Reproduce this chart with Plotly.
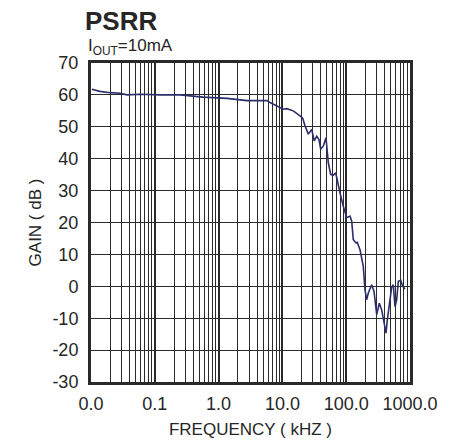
import plotly.graph_objects as go

freq_khz = [0.0103, 0.0138, 0.0199, 0.0285, 0.0367, 0.06, 0.121, 0.25, 0.569, 1.35, 2.79, 3.10,
            5.74, 6.40, 10.3, 11.7, 14.8, 18.9, 20.8, 22.6, 25.5, 28.8, 31.6, 34.5, 37.5,
            39.8, 43.8, 48.2, 50.6, 52.4, 57.1, 62.8, 68.4, 72.5, 80.0, 90.0, 101.8, 114.8,
            122, 129, 142.5, 149, 164.5, 185, 197, 209, 222, 251, 273, 301, 330, 360, 395,
            421, 441, 474, 517, 548, 582, 619, 656, 715, 769, 835]
gain_db = [61.8, 61.1, 60.7, 60.5, 60.0, 60.2, 60.0, 60.0, 59.3, 58.9, 58.2, 58.2,
           58.2, 57.6, 55.5, 55.7, 55.0, 53.4, 52.7, 50.3, 47.7, 49.2, 45.6, 47.0, 46.0,
           43.0, 44.0, 46.6, 43.0, 38.8, 35.1, 34.8, 35.6, 33.0, 29.3, 25.1, 21.5, 22.0,
           20.4, 14.7, 13.6, 13.8, 11.5, 6.3, -1.1, -4.2, -2.1, 0.5, -1.6, -8.9, -5.3, -7.4, -11.5,
           -14.7, -10.5, -6.4, -0.2, 0.5, -6.4, -4.2, 1.6, 1.9, 0.0, -0.8]

x_tick_vals = [0.01, 0.1, 1, 10, 100, 1000]
x_tick_text = ["0.0", "0.1", "1.0", "10.0", "100.0", "1000.0"]
y_tick_vals = [-30, -20, -10, 0, 10, 20, 30, 40, 50, 60, 70]
y_tick_text = ["-30", "-20", "-10", "0", "10", "20", "30", "40", "50", "60", "70"]

FONT = "Liberation Sans, Arial, sans-serif"
TXT = "#262626"
GRID = "#2a2a2a"

W, H = 452, 445
L, R, T, B = 91, 42, 63, 63
pw, ph = W - L - R, H - T - B


def px_x(px):
    return (px - L) / pw


def px_y(py):
    return (H - B - py) / ph


fig = go.Figure()
fig.add_trace(go.Scatter(x=freq_khz, y=gain_db, mode="lines",
                         line=dict(color="#2b2e6b", width=1.6), hoverinfo="skip"))

fig.update_layout(
    width=W, height=H,
    margin=dict(l=L, r=R, t=T, b=B, autoexpand=False),
    paper_bgcolor="white", plot_bgcolor="white",
    showlegend=False,
    font=dict(family=FONT, color=TXT),
    annotations=[
        dict(text="<b>PSRR</b>", x=px_x(83), y=px_y(21), xref="paper", yref="paper",
             showarrow=False, xanchor="left", yanchor="middle",
             font=dict(size=26, family=FONT, color=TXT)),
        dict(text="I<sub>OUT</sub>=10mA", x=px_x(86), y=px_y(47), xref="paper", yref="paper",
             showarrow=False, xanchor="left", yanchor="middle",
             font=dict(size=17, family=FONT, color=TXT)),
    ],
)

fig.update_xaxes(
    type="log", range=[-2, 3], automargin=False,
    tickvals=x_tick_vals, ticktext=x_tick_text,
    tickfont=dict(size=18, family=FONT, color=TXT),
    showgrid=True, gridcolor=GRID, gridwidth=2,
    minor=dict(showgrid=True, gridcolor=GRID, gridwidth=1.1, dtick="D1", ticks=""),
    showline=True, linecolor=GRID, linewidth=3, mirror=True,
    ticks="outside", ticklen=3, tickcolor="white",
    title=dict(text="FREQUENCY ( kHZ )", font=dict(size=17, family=FONT, color=TXT), standoff=11),
    zeroline=False,
)
fig.update_yaxes(
    range=[-30, 70], automargin=False,
    tickvals=y_tick_vals, ticktext=y_tick_text,
    tickfont=dict(size=18, family=FONT, color=TXT),
    showgrid=True, gridcolor=GRID, gridwidth=1.4,
    showline=True, linecolor=GRID, linewidth=3, mirror=True,
    ticks="outside", ticklen=6, tickcolor="white",
    title=dict(text="GAIN ( dB )", font=dict(size=17, family=FONT, color=TXT), standoff=7),
    zeroline=False,
)

fig.write_html("out.html", config={"displayModeBar": False},
               post_script="document.body.style.margin='0';document.body.style.overflow='hidden';")
